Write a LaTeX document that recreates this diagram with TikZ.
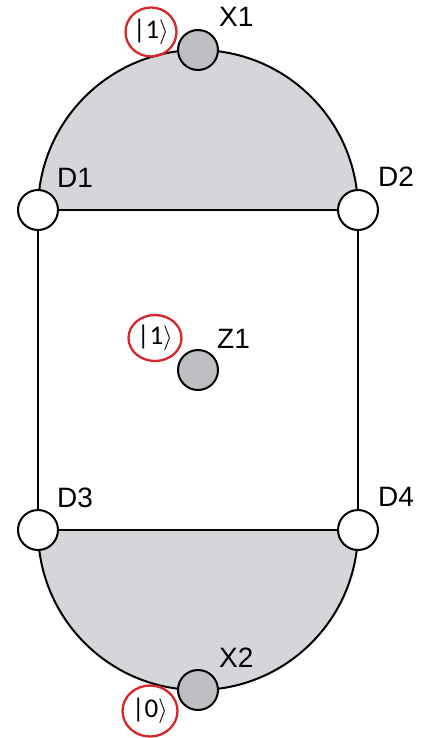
\documentclass[tikz,border=0pt]{standalone}
\usepackage{fontspec}
\setmainfont{Liberation Sans}
\newfontfamily\ketfont{Carlito}
\usetikzlibrary{shapes.geometric}
\definecolor{shadegray}{RGB}{213,214,218}
\definecolor{nodegray}{RGB}{190,191,195}
\definecolor{ketred}{RGB}{218,38,42}
\pgfdeclarelayer{bg}
\pgfsetlayers{bg,main}
\begin{document}
\begin{tikzpicture}[x=1pt,y=-1pt,
  dnode/.style={circle,draw=black,line width=2pt,fill=white,minimum size=40pt,inner sep=0pt},
  qnode/.style={circle,draw=black,line width=2pt,fill=nodegray,minimum size=40pt,inner sep=0pt},
  lbl/.style={font=\fontsize{28}{32}\selectfont,inner sep=0pt,anchor=base west},
  ket/.style={ellipse,draw=ketred,line width=2.3pt,inner sep=0pt,font=\ketfont\fontsize{27}{30}\selectfont},
  link/.style={line width=2pt,draw=black}]
\useasboundingbox (0,0) rectangle (426,738);
% nodes
\node[dnode] (d1) at (38,210) {};
\node[dnode] (d2) at (358,210) {};
\node[dnode] (d3) at (38,530) {};
\node[dnode] (d4) at (358,530) {};
\node[qnode] (x1) at (198,50) {};
\node[qnode] (z1) at (198,370) {};
\node[qnode] (x2) at (198,690) {};
% labels
\node[lbl] (ld1) at (57,187) {D1};
\node[lbl] (ld2) at (378,186) {D2};
\node[lbl] (ld3) at (57,507) {D3};
\node[lbl] (ld4) at (378,506) {D4};
\node[lbl] (lx1) at (219,27) {X1};
\node[lbl] (lz1) at (217,348) {Z1};
\node[lbl] (lx2) at (219,667) {X2};
% kets
\node[ket,minimum width=51pt,minimum height=49pt] (k1) at (151,32) {|1$\rangle$};
\node[ket,minimum width=53pt,minimum height=46pt] (k2) at (155,338) {|1$\rangle$};
\node[ket,minimum width=55pt,minimum height=51pt] (k3) at (150,711) {|0$\rangle$};
% background shapes and connectors
\begin{pgfonlayer}{bg}
\fill[shadegray] (d1.center) arc[start angle=180,end angle=0,radius=160pt] -- cycle;
\fill[shadegray] (d3.center) arc[start angle=180,end angle=360,radius=160pt] -- cycle;
\draw[link] (d1.center) arc[start angle=180,end angle=0,radius=160pt];
\draw[link] (d3.center) arc[start angle=180,end angle=360,radius=160pt];
\draw[link] (d1) -- (d2);
\draw[link] (d3) -- (d4);
\draw[link] (d1) -- (d3);
\draw[link] (d2) -- (d4);
\end{pgfonlayer}
\end{tikzpicture}
\end{document}
